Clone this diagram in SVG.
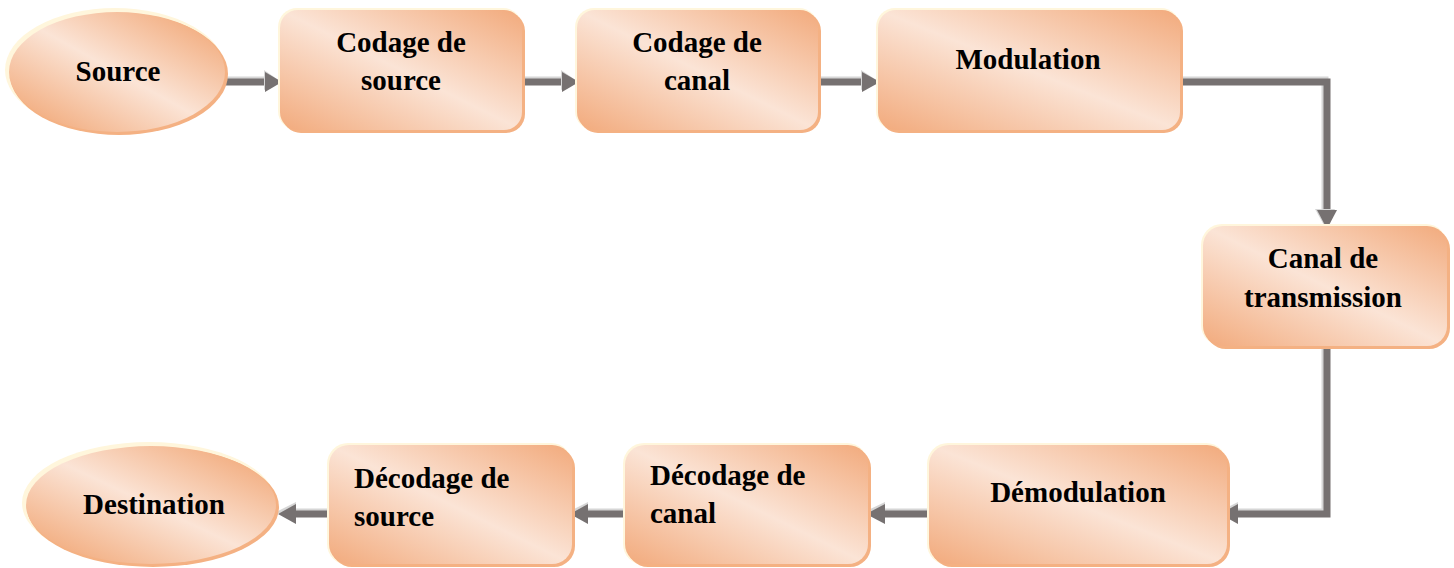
<svg xmlns="http://www.w3.org/2000/svg" width="1454" height="568" viewBox="0 0 1454 568">
  <defs>
    <linearGradient id="fillGrad" x1="0" y1="1" x2="1" y2="0">
      <stop offset="0" stop-color="#F2AA7C"/>
      <stop offset="0.5" stop-color="#FBE4D6"/>
      <stop offset="1" stop-color="#F2AA7C"/>
    </linearGradient>
    <linearGradient id="ellGrad" x1="0.1" y1="0.9" x2="0.9" y2="0.1">
      <stop offset="0" stop-color="#F2AC7E"/>
      <stop offset="0.5" stop-color="#FBE4D6"/>
      <stop offset="1" stop-color="#F2AC7E"/>
    </linearGradient>
  </defs>
  <style>
    .box { fill: url(#fillGrad); }
    .ell { fill: url(#ellGrad); }
    .shadow { fill: #F4B183; }
    .glow { fill: #FFF6DC; }
    .lbl { font-family: "Liberation Serif", "Times New Roman", serif; font-weight: bold; font-size: 29px; fill: #000000; }
    .mid { text-anchor: middle; }
    .hi { fill: none; stroke: #D6D6D6; stroke-width: 7; stroke-linejoin: miter; }
    .ln { fill: none; stroke: #767171; stroke-width: 7; stroke-linejoin: miter; }
    .hd { fill: #767171; }
    .hdhi { fill: #D6D6D6; }
  </style>
  <rect width="1454" height="568" fill="#FFFFFF"/>

  <g id="connectors">
    <!-- Source -> Codage de source -->
    <path class="hi" d="M224 80 H266"/>
    <path class="ln" d="M224 82 H266"/>
    <polygon class="hdhi" points="264,70 280,81 264,90"/>
    <polygon class="hd" points="265,72 282,82 265,92"/>
    <!-- Codage de source -> Codage de canal -->
    <path class="hi" d="M523 80 H563"/>
    <path class="ln" d="M523 82 H563"/>
    <polygon class="hdhi" points="561,70 577,81 561,90"/>
    <polygon class="hd" points="562,72 579,82 562,92"/>
    <!-- Codage de canal -> Modulation -->
    <path class="hi" d="M818 80 H863"/>
    <path class="ln" d="M818 82 H863"/>
    <polygon class="hdhi" points="861,70 878,81 861,90"/>
    <polygon class="hd" points="862,72 880,82 862,92"/>
    <!-- Modulation -> Canal de transmission -->
    <path class="hi" d="M1181 80 H1325 V211"/>
    <path class="ln" d="M1181 82 H1327 V211"/>
    <polygon class="hdhi" points="1315,209 1325,227 1335,209"/>
    <polygon class="hd" points="1317,210 1327,229 1337,210"/>
    <!-- Canal de transmission -> Démodulation -->
    <path class="hi" d="M1325 347 V512 H1237"/>
    <path class="ln" d="M1327 347 V514 H1237"/>
    <polygon class="hdhi" points="1238,502 1218,512 1238,520"/>
    <polygon class="hd" points="1238,504 1220,514 1238,524"/>
    <!-- Démodulation -> Décodage de canal -->
    <path class="hi" d="M929 512 H884"/>
    <path class="ln" d="M929 514 H884"/>
    <polygon class="hdhi" points="885,502 864,512 885,520"/>
    <polygon class="hd" points="885,504 866,514 885,524"/>
    <!-- Décodage de canal -> Décodage de source -->
    <path class="hi" d="M625 512 H587"/>
    <path class="ln" d="M625 514 H587"/>
    <polygon class="hdhi" points="588,502 568,512 588,520"/>
    <polygon class="hd" points="588,504 570,514 588,524"/>
    <!-- Décodage de source -> Destination -->
    <path class="hi" d="M329 512 H295"/>
    <path class="ln" d="M329 514 H295"/>
    <polygon class="hdhi" points="296,502 276,512 296,520"/>
    <polygon class="hd" points="296,504 278,514 296,524"/>
  </g>

  <g id="source">
    <ellipse class="glow" cx="115" cy="70" rx="110" ry="62"/>
    <ellipse class="shadow" cx="119" cy="74" rx="109" ry="61"/>
    <ellipse class="ell" cx="117" cy="72" rx="108" ry="60"/>
    <text class="lbl mid" x="118" y="81">Source</text>
  </g>

  <g id="codage-source">
    <rect class="glow" x="278" y="8" width="244" height="122" rx="19"/>
    <rect class="shadow" x="282" y="12" width="243" height="121" rx="19"/>
    <rect class="box" x="280" y="10" width="242" height="120" rx="18"/>
    <text class="lbl mid" x="401" y="52">Codage de</text>
    <text class="lbl mid" x="401" y="90">source</text>
  </g>

  <g id="codage-canal">
    <rect class="glow" x="575" y="8" width="243" height="122" rx="19"/>
    <rect class="shadow" x="579" y="12" width="242" height="121" rx="19"/>
    <rect class="box" x="577" y="10" width="241" height="120" rx="18"/>
    <text class="lbl mid" x="697" y="52">Codage de</text>
    <text class="lbl mid" x="697" y="90">canal</text>
  </g>

  <g id="modulation">
    <rect class="glow" x="876" y="8" width="304" height="122" rx="19"/>
    <rect class="shadow" x="880" y="12" width="303" height="121" rx="19"/>
    <rect class="box" x="878" y="10" width="302" height="120" rx="18"/>
    <text class="lbl mid" x="1028" y="69">Modulation</text>
  </g>

  <g id="canal-transmission">
    <rect class="glow" x="1201" y="224" width="246" height="122" rx="21"/>
    <rect class="shadow" x="1205" y="228" width="245" height="121" rx="21"/>
    <rect class="box" x="1203" y="226" width="244" height="120" rx="20"/>
    <text class="lbl mid" x="1323" y="268">Canal de</text>
    <text class="lbl mid" x="1323" y="307">transmission</text>
  </g>

  <g id="demodulation">
    <rect class="glow" x="927" y="443" width="300" height="122" rx="21"/>
    <rect class="shadow" x="931" y="447" width="299" height="120" rx="21"/>
    <rect class="box" x="929" y="445" width="298" height="119" rx="20"/>
    <text class="lbl mid" x="1078" y="502">Démodulation</text>
  </g>

  <g id="decodage-canal">
    <rect class="glow" x="623" y="443" width="245" height="122" rx="21"/>
    <rect class="shadow" x="627" y="447" width="244" height="120" rx="21"/>
    <rect class="box" x="625" y="445" width="243" height="119" rx="20"/>
    <text class="lbl" x="650" y="485">Décodage de</text>
    <text class="lbl" x="650" y="523">canal</text>
  </g>

  <g id="decodage-source">
    <rect class="glow" x="327" y="443" width="245" height="122" rx="21"/>
    <rect class="shadow" x="331" y="447" width="244" height="120" rx="21"/>
    <rect class="box" x="329" y="445" width="243" height="119" rx="20"/>
    <text class="lbl" x="354" y="488">Décodage de</text>
    <text class="lbl" x="354" y="526">source</text>
  </g>

  <g id="destination">
    <ellipse class="glow" cx="149" cy="503" rx="127" ry="61"/>
    <ellipse class="shadow" cx="153" cy="507" rx="126" ry="60"/>
    <ellipse class="ell" cx="151" cy="505" rx="125" ry="59"/>
    <text class="lbl mid" x="154" y="514">Destination</text>
  </g>
</svg>
